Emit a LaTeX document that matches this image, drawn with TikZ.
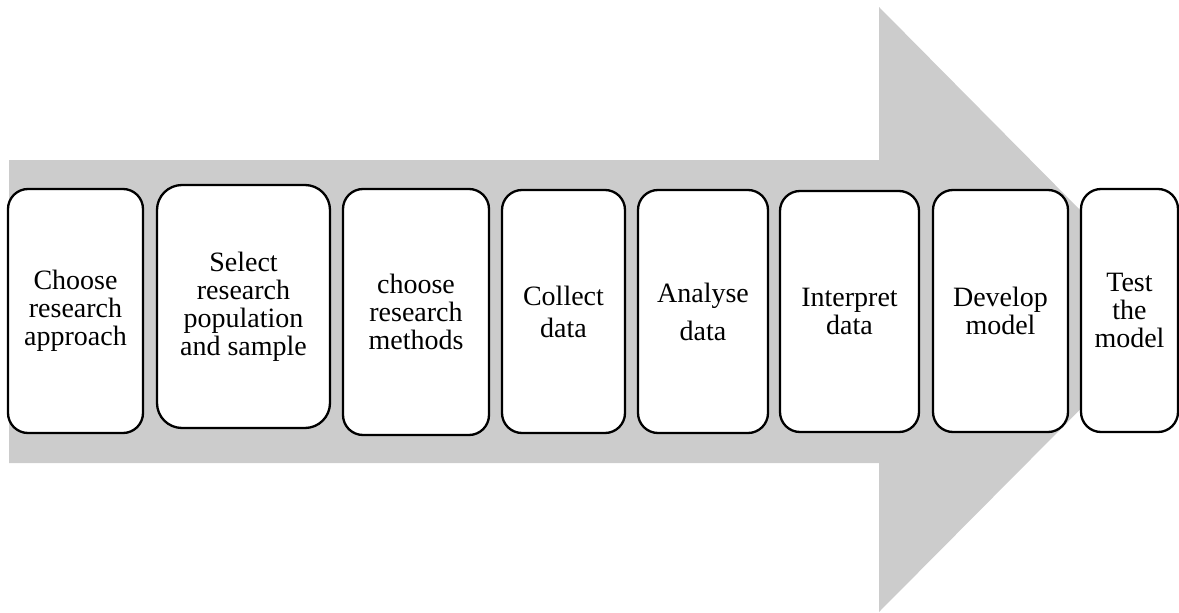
\documentclass[tikz,border=0pt]{standalone}
\usepackage{fontspec}
\setmainfont{Liberation Serif}
\usepackage{tikz}
\tikzset{
  stagebox/.style={draw=black, line width=2.3pt, fill=white, rounded corners=20pt,
    align=center, inner sep=0pt, font=\fontsize{28}{28}\selectfont},
  flowarrow/.style={fill=black!20, draw=none}
}

\begin{document}
\begin{tikzpicture}[x=1pt, y=-1pt]
			%%%%% START %%%%%
			
			\useasboundingbox (0, 0) rectangle (1179, 613);
			
			\fill[flowarrow] (9, 160) -- (879, 160) -- (879, 7) -- (1179, 310) -- (879, 612) -- (879, 463) -- (9, 463) -- cycle;
			
			\node[stagebox, minimum width=135pt, minimum height=244pt] (approach) at (75.5, 311) {Choose\\research\\approach};
			\node[stagebox, minimum width=173pt, minimum height=243pt, rounded corners=25pt] (sample) at (243.5, 306.5) {Select\\research\\population\\and sample};
			\node[stagebox, minimum width=146pt, minimum height=246pt] (methods) at (416, 312) {choose\\research\\methods};
			\node[stagebox, minimum width=123pt, minimum height=243pt, font=\fontsize{28}{32}\selectfont] (collect) at (563.5, 311.5) {Collect\\data};
			\node[stagebox, minimum width=130pt, minimum height=243pt, font=\fontsize{28}{38}\selectfont] (analyse) at (703, 311.5) {Analyse\\data};
			\node[stagebox, minimum width=139pt, minimum height=241pt] (interpret) at (849.5, 311.5) {Interpret\\data};
			\node[stagebox, minimum width=135pt, minimum height=242pt] (develop) at (1000.5, 311) {Develop\\model};
			\node[stagebox, minimum width=97pt, minimum height=243pt] (test) at (1129.5, 310.5) {Test\\the\\model};
			
			%%%%% END %%%%%
		\end{tikzpicture}
\end{document}
